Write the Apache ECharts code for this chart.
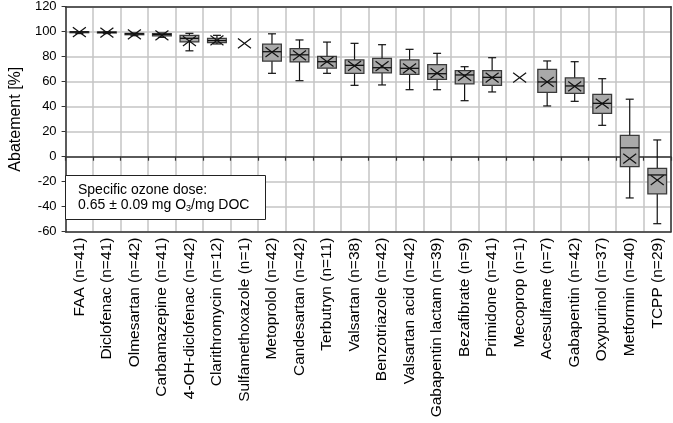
<!DOCTYPE html>
<html>
<head>
<meta charset="utf-8">
<script src="https://cdn.jsdelivr.net/npm/echarts@6/dist/echarts.min.js"></script>
<style>
html,body{margin:0;padding:0;background:#fff;}
#chart{width:673px;height:423px;}
</style>
</head>
<body>
<div id="chart"></div>
<script>
const categories = ['FAA (n=41)','Diclofenac (n=41)','Olmesartan (n=42)','Carbamazepine (n=41)','4-OH-diclofenac (n=42)','Clarithromycin (n=12)','Sulfamethoxazole (n=1)','Metoprolol (n=42)','Candesartan (n=42)','Terbutryn (n=11)','Valsartan (n=38)','Benzotriazole (n=42)','Valsartan acid (n=42)','Gabapentin lactam (n=39)','Bezafibrate (n=9)','Primidone (n=41)','Mecoprop (n=1)','Acesulfame (n=7)','Gabapentin (n=42)','Oxypurinol (n=37)','Metformin (n=40)','TCPP (n=29)'];
const minVals  = [98.5, 98.5, 96.8, 95.5, 84.7, 90.2, null, 66.7, 60.8, 66.7, 57.1, 57.4, 53.6, 53.6, 44.8, 51.8, null, 40.6, 44.3, 25.1, -33.0, -53.6];
const q1Vals   = [99.4, 99.0, 97.6, 96.6, 91.8, 91.2, null, 76.5, 75.8, 70.8, 66.7, 67.0, 65.9, 61.9, 58.2, 57.1, null, 51.5, 50.7, 34.7, -8.0, -29.8];
const medVals  = [99.8, 99.5, 98.3, 97.8, 94.7, 92.9, null, 84.0, 81.5, 76.0, 73.1, 71.2, 70.7, 66.4, 65.4, 63.5, null, 59.8, 56.6, 42.7, 7.1, -14.6];
const q3Vals   = [100, 99.8, 98.6, 98.4, 97.0, 94.7, null, 90.0, 86.4, 80.3, 77.4, 78.7, 77.4, 73.6, 68.8, 68.8, null, 69.9, 63.0, 49.9, 17.1, -9.3];
const maxVals  = [100, 100, 99.0, 99.0, 98.7, 97.1, null, 98.3, 93.4, 91.7, 90.7, 89.6, 85.9, 82.7, 72.0, 79.2, null, 76.6, 76.0, 62.4, 46.0, 13.4];
const meanVals = [99.6, 99.2, 97.9, 97.0, 92.5, 93.0, 90.6, 83.6, 81.0, 76.0, 72.6, 72.4, 70.6, 66.8, 64.6, 63.2, 63.2, 59.8, 56.2, 42.5, -1.6, -18.8];
const yTicks = {min: -60, max: 120, interval: 20};

const data = categories.map((c, i) => [i, minVals[i], q1Vals[i], medVals[i], q3Vals[i], maxVals[i], meanVals[i]]);

const chart = echarts.init(document.getElementById('chart'), null, {renderer: 'canvas'});
const FONT = '"Liberation Sans", Arial, sans-serif';

function renderItem(params, api) {
  const idx = api.value(0);
  const vmin = api.value(1), vq1 = api.value(2), vmed = api.value(3), vq3 = api.value(4), vmax = api.value(5), vmean = api.value(6);
  const cx = api.coord([idx, 0])[0];
  const band = api.size([1, 0])[0];
  const bw = band * 0.68;
  const cap = 4;
  const children = [];
  const ok = v => v !== null && v !== undefined && !isNaN(v);
  if (ok(vq1) && ok(vq3)) {
    const yMin = api.coord([idx, vmin])[1];
    const yQ1 = api.coord([idx, vq1])[1];
    const yMed = api.coord([idx, vmed])[1];
    const yQ3 = api.coord([idx, vq3])[1];
    const yMax = api.coord([idx, vmax])[1];
    const lineStyle = {stroke: '#111', lineWidth: 1.2};
    children.push({type: 'line', shape: {x1: cx, y1: yMax, x2: cx, y2: yQ3}, style: lineStyle});
    children.push({type: 'line', shape: {x1: cx, y1: yQ1, x2: cx, y2: yMin}, style: lineStyle});
    children.push({type: 'line', shape: {x1: cx - cap, y1: yMax, x2: cx + cap, y2: yMax}, style: lineStyle});
    children.push({type: 'line', shape: {x1: cx - cap, y1: yMin, x2: cx + cap, y2: yMin}, style: lineStyle});
    children.push({type: 'rect', shape: {x: cx - bw / 2, y: yQ3, width: bw, height: Math.max(yQ1 - yQ3, 1)}, style: {fill: '#a9a9a9', stroke: '#3a3a3a', lineWidth: 1.3}});
    children.push({type: 'line', shape: {x1: cx - bw / 2, y1: yMed, x2: cx + bw / 2, y2: yMed}, style: {stroke: '#111', lineWidth: 1.3}});
  }
  if (ok(vmean)) {
    const ym = api.coord([idx, vmean])[1];
    const h = 6.5;
    const s = {stroke: '#111', lineWidth: 1.2};
    children.push({type: 'line', shape: {x1: cx - h, y1: ym - h * 0.75, x2: cx + h, y2: ym + h * 0.75}, style: s});
    children.push({type: 'line', shape: {x1: cx - h, y1: ym + h * 0.75, x2: cx + h, y2: ym - h * 0.75}, style: s});
  }
  return {type: 'group', children};
}

const option = {
  animation: false,
  backgroundColor: '#fff',
  grid: {left: 52, right: 2, top: 6.7, bottom: 191.3, containLabel: false},
  xAxis: [
    {
      type: 'category', data: categories, position: 'bottom',
      axisLine: {onZero: false, lineStyle: {color: '#333', width: 1.5}},
      axisTick: {show: false},
      axisLabel: {rotate: 90, margin: 6, fontFamily: FONT, fontSize: 15.5, color: '#000', interval: 0},
      splitLine: {show: true, interval: 0, lineStyle: {color: '#c4c4c4', width: 1.5}}
    },
    {
      type: 'category', data: categories, position: 'bottom',
      axisLine: {onZero: true, lineStyle: {color: '#333', width: 1.5}},
      axisTick: {show: true, length: 4, interval: 0, lineStyle: {color: '#333', width: 1.2}},
      axisLabel: {show: false},
      splitLine: {show: false}
    },
    {
      type: 'category', data: categories, position: 'top',
      axisLine: {onZero: false, lineStyle: {color: '#333', width: 1.5}},
      axisTick: {show: false}, axisLabel: {show: false}, splitLine: {show: false}
    }
  ],
  yAxis: [
    {
      type: 'value', min: yTicks.min, max: yTicks.max, interval: yTicks.interval,
      name: 'Abatement [%]', nameLocation: 'middle', nameGap: 40,
      nameTextStyle: {fontFamily: FONT, fontSize: 16, color: '#000'},
      axisLine: {show: true, lineStyle: {color: '#333', width: 1.5}},
      axisTick: {show: true, length: 4, lineStyle: {color: '#333'}},
      axisLabel: {fontFamily: FONT, fontSize: 13, color: '#000', margin: 9},
      splitLine: {show: true, lineStyle: {color: '#c4c4c4', width: 1.5}}
    },
    {
      type: 'value', min: yTicks.min, max: yTicks.max, interval: yTicks.interval, position: 'right',
      axisLine: {show: true, lineStyle: {color: '#333', width: 1.5}},
      axisTick: {show: false}, axisLabel: {show: false}, splitLine: {show: false}
    }
  ],
  series: [{
    type: 'custom',
    xAxisIndex: 0, yAxisIndex: 0,
    renderItem: renderItem,
    encode: {x: 0, y: [1, 2, 3, 4, 5, 6]},
    data: data,
    z: 10
  }],
  graphic: [
    {type: 'rect', left: 65, top: 175, z: 100, shape: {width: 200, height: 44}, style: {fill: '#ffffff', stroke: '#222', lineWidth: 1}},
    {type: 'text', left: 78, top: 182, z: 101, style: {
      text: 'Specific ozone dose:\n0.65 ± 0.09 mg O{sub|3}/mg DOC',
      fontFamily: FONT, fontSize: 14, fill: '#000', lineHeight: 15.5,
      rich: {sub: {fontFamily: FONT, fontSize: 9, fill: '#000', verticalAlign: 'bottom', padding: [6, 0, 0, 0]}}
    }}
  ]
};
chart.setOption(option);
</script>
</body>
</html>
